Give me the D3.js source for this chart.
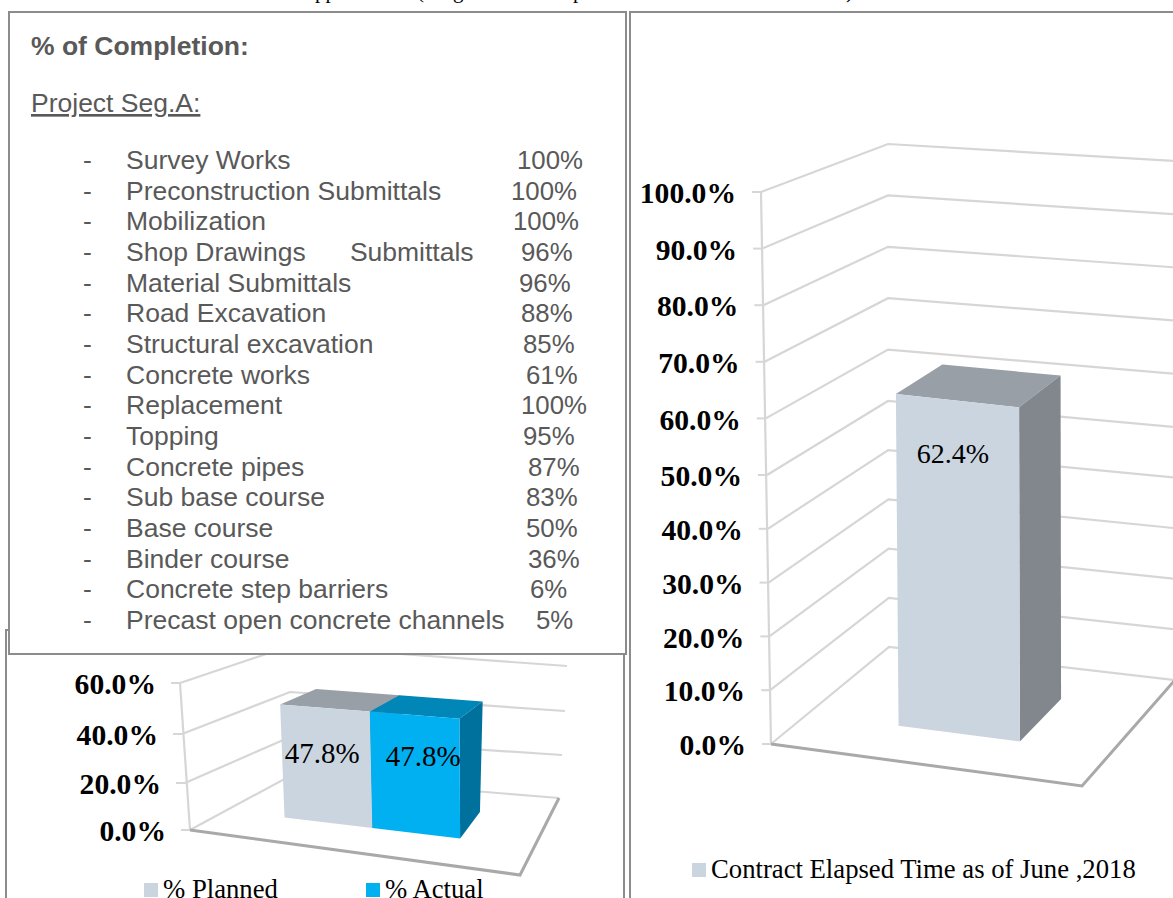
<!DOCTYPE html>
<html>
<head>
<meta charset="utf-8">
<script src="https://cdnjs.cloudflare.com/ajax/libs/d3/7.8.5/d3.min.js"></script>
<style>
    html, body { margin: 0; padding: 0; background: #fff; overflow: hidden; }
    text.task { font-family: "Liberation Sans"; font-size: 26.5px; fill: #595959; white-space: pre; }
    text.pct { font-family: "Liberation Sans"; font-size: 25.8px; fill: #595959; }
    text.tick { font-family: "Liberation Serif"; font-weight: bold; font-size: 29.6px; fill: #000; }
    text.value { font-family: "Liberation Serif"; fill: #000; }
    text.legend { font-family: "Liberation Serif"; font-size: 26.7px; fill: #000; }
    .grid { fill: none; stroke: #d6d6d6; stroke-width: 2.2; }
    .floor { fill: none; stroke: #a9a9a9; stroke-width: 3; }
    .box { fill: #fff; stroke: #8c8c8c; stroke-width: 2; }
</style>
</head>
<body>
<svg id="page" width="1173" height="898"></svg>
<script>
// values
const taskNames = ["Survey Works", "Preconstruction Submittals", "Mobilization",
    "Shop Drawings      Submittals", "Material Submittals", "Road Excavation",
    "Structural excavation", "Concrete works", "Replacement", "Topping",
    "Concrete pipes", "Sub base course", "Base course", "Binder course",
    "Concrete step barriers", "Precast open concrete channels"];
const taskPercents = [100, 100, 100, 96, 96, 88, 85, 61, 100, 95, 87, 83, 50, 36, 6, 5];

const progressSeries = ["% Planned", "% Actual"];
const progressValues = [47.8, 47.8];
const progressTicks = [0, 20, 40, 60];

const elapsedSeries = ["Contract Elapsed Time as of June ,2018"];
const elapsedValues = [62.4];
const elapsedTicks = [0, 10, 20, 30, 40, 50, 60, 70, 80, 90, 100];

// layout of the list, the source lined the percents up by hand
const pctLeft = [517, 511, 513, 521, 519, 521, 523, 526, 521, 523, 528, 526, 526, 528, 530, 536];
const rowY = d3.scaleLinear().domain([0, 15]).range([169, 629]);

const svg = d3.select("#page");

// a fake 3d box chart. each corner of the plot cube gets its own value->pixel scales,
// the points in between are blended from the four corners
function drawCube(cfg) {
    const g = svg.append("g");
    const corner = c => ({
        x: d3.scaleLinear().domain(cfg.stops).range(c.x),
        y: d3.scaleLinear().domain(cfg.stops).range(c.y)
    });
    const fl = corner(cfg.fl), fr = corner(cfg.fr), bl = corner(cfg.bl), br = corner(cfg.br);

    function project(u, v, p) {
        const mix = k => (1 - u) * (1 - v) * fl[k](p) + u * (1 - v) * fr[k](p)
            + (1 - u) * v * bl[k](p) + u * v * br[k](p);
        return [mix("x"), mix("y")];
    }
    const line = d3.line();
    const closed = pts => line(pts) + "Z";

    // walls
    g.selectAll("path.wall").data(cfg.ticks).join("path").attr("class", "grid wall")
        .attr("d", p => line([project(0, 0, p), project(0, 1, p), project(1, 1, p)]));
    g.append("path").attr("class", "grid")
        .attr("d", line([project(0, 0, 0), project(0, 0, cfg.stops[cfg.stops.length - 1])]));
    g.append("path").attr("class", "floor")
        .attr("d", line([project(0, 0, 0), project(1, 0, 0), project(1, 1, 0)]));

    // axis, moved tick by tick because the front edge leans
    const axis = g.append("g").call(d3.axisLeft(fl.y).tickValues(cfg.ticks).tickSizeOuter(0)
        .tickSize(9).tickFormat(d => d.toFixed(1) + "%"));
    axis.select(".domain").remove();
    axis.selectAll(".tick").attr("transform", d => `translate(${fl.x(d)},${fl.y(d)})`);
    axis.selectAll(".tick line").attr("stroke", "#d6d6d6").attr("stroke-width", 2);
    axis.selectAll(".tick text").attr("class", "tick").attr("font-family", null).attr("font-size", null)
        .attr("x", cfg.tickDx).attr("dy", "0.38em");
    axis.attr("font-size", null).attr("font-family", null);

    // bars
    const band = d3.scaleBand().domain(cfg.series).range(cfg.uRange);
    const [v0, v1] = cfg.vRange;
    cfg.series.forEach((name, i) => {
        const a = band(name), b = a + band.bandwidth(), val = cfg.values[i], col = cfg.colors[i];
        g.append("path").attr("fill", col.top)
            .attr("d", closed([project(a, v0, val), project(b, v0, val), project(b, v1, val), project(a, v1, val)]));
        g.append("path").attr("fill", col.side)
            .attr("d", closed([project(b, v0, 0), project(b, v1, 0), project(b, v1, val), project(b, v0, val)]));
        g.append("path").attr("fill", col.front)
            .attr("d", closed([project(a, v0, 0), project(b, v0, 0), project(b, v0, val), project(a, v0, val)]));
    });
    cfg.series.forEach((name, i) => {
        const at = project(band(name) + band.bandwidth() / 2, v0, cfg.labelAt);
        g.append("text").attr("class", "value").attr("text-anchor", "middle")
            .attr("font-size", cfg.valueSize)
            .attr("x", at[0] + cfg.labelDx[i]).attr("y", at[1] + cfg.labelDy[i])
            .text(cfg.values[i].toFixed(1) + "%");
    });

    // legend
    cfg.series.forEach((name, i) => {
        g.append("rect").attr("x", cfg.legendX[i]).attr("y", cfg.legendY - 15).attr("width", 14).attr("height", 14)
            .attr("fill", cfg.colors[i].front);
        g.append("text").attr("class", "legend").attr("x", cfg.legendX[i] + 19).attr("y", cfg.legendY).text(name);
    });
}

// clipped line of the page above the charts, only the descenders show
const topGlyphs = ["pp", "(", "g", "p", ")"];
const topGlyphX = [315, 417, 453, 573, 846];
svg.selectAll("text.cut").data(topGlyphs).join("text").attr("class", "cut")
    .attr("font-family", "Liberation Serif").attr("font-size", 21).attr("fill", "#000")
    .attr("x", (d, i) => topGlyphX[i]).attr("y", -2).text(d => d);

// lower left frame sits under the list
svg.append("path").attr("class", "box").attr("d", "M9,630H6V899M624,640V899");

drawCube({
    series: progressSeries, values: progressValues, ticks: progressTicks,
    stops: [0, 20, 40, 60],
    fl: { x: [190, 185, 182, 180], y: [830, 783, 734, 683] },
    fr: { x: [520, 519, 518, 517], y: [875, 820, 764, 708] },
    bl: { x: [290, 290, 290, 290], y: [776, 737, 692, 646] },
    br: { x: [559, 562, 565, 567], y: [798, 755, 711, 666] },
    uRange: [0.19, 0.76], vRange: [0.36, 0.73],
    tickDx: -24,
    colors: [{ front: "#cad5e0", top: "#989fa7", side: "#82868d" },
        { front: "#00b0f0", top: "#0087b8", side: "#00719c" }],
    valueSize: 29, labelAt: 25, labelDx: [-4, 8], labelDy: [-1, -7],
    legendX: [144, 366], legendY: 898
});

drawCube({
    series: elapsedSeries, values: elapsedValues, ticks: elapsedTicks,
    stops: [0, 50, 100],
    fl: { x: [771, 767, 761], y: [744, 475, 192] },
    fr: { x: [1082, 1083, 1083], y: [786, 512, 232] },
    bl: { x: [889, 888, 888], y: [647, 401, 144] },
    br: { x: [1175, 1175, 1175], y: [680, 427, 161] },
    uRange: [0.30, 0.70], vRange: [0.31, 0.72],
    tickDx: -25,
    colors: [{ front: "#cad5e0", top: "#989fa7", side: "#82868d" }],
    valueSize: 28, labelAt: 50, labelDx: [-5], labelDy: [-6],
    legendX: [692], legendY: 878
});

// list panel goes over the small chart
svg.append("rect").attr("class", "box").attr("x", 9).attr("y", 12).attr("width", 617).attr("height", 642);
svg.append("path").attr("class", "box").style("fill", "none").attr("d", "M1174,12H630V899");

svg.append("text").attr("x", 31).attr("y", 55).attr("font-family", "Liberation Sans").attr("font-weight", "bold")
    .attr("font-size", 26.5).attr("fill", "#595959").text("% of Completion:");
svg.append("text").attr("x", 31).attr("y", 112).attr("font-family", "Liberation Sans").attr("font-size", 26.5)
    .attr("fill", "#595959").attr("text-decoration", "underline").text("Project Seg.A:");

const rows = svg.selectAll("g.row").data(taskNames).join("g").attr("class", "row")
    .attr("transform", (d, i) => `translate(0,${rowY(i)})`);
rows.append("text").attr("class", "task").attr("x", 83).text("-");
rows.append("text").attr("class", "task").attr("x", 126).text(d => d);
rows.append("text").attr("class", "pct").attr("x", (d, i) => pctLeft[i]).text((d, i) => taskPercents[i] + "%");
</script>
</body>
</html>
